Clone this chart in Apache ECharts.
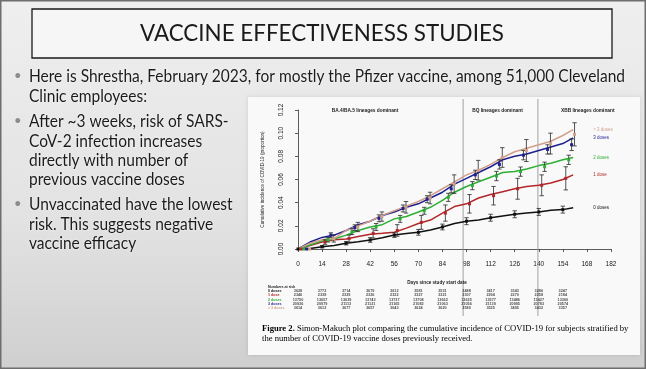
<!DOCTYPE html>
<html><head><meta charset="utf-8">
<script src="https://cdn.jsdelivr.net/npm/echarts@6/dist/echarts.min.js"></script>
<style>html,body{margin:0;padding:0;background:#e6e6e6}#c{width:646px;height:369px}</style>
</head><body><div id="c"></div>
<script>
// ---------- data ----------
const slideTitle = 'VACCINE EFFECTIVENESS STUDIES';
const bulletLines = [
  ['Here is Shrestha, February 2023, for mostly the Pfizer vaccine, among 51,000 Cleveland', 'Clinic employees:'],
  ['After ~3 weeks, risk of SARS-', 'CoV-2 infection increases', 'directly with number of', 'previous vaccine doses'],
  ['Unvaccinated have the lowest', 'risk. This suggests negative', 'vaccine efficacy']
];
const groupNames = ['0 doses', '1 dose', '2 doses', '3 doses', '> 3 doses'];
const days = [0,7,14,21,28,35,42,49,56,63,70,77,84,91,98,105,112,119,126,133,140,147,154,160];
const dose0 = [0,0.0005,0.002,0.003,0.005,0.0063,0.0078,0.0098,0.012,0.0133,0.0144,0.0164,0.019,0.022,0.024,0.025,0.027,0.0285,0.030,0.031,0.032,0.0334,0.034,0.0357];
const dose1 = [0,0.003,0.006,0.008,0.0086,0.0107,0.0127,0.0135,0.0144,0.018,0.022,0.025,0.031,0.0366,0.039,0.044,0.047,0.0495,0.052,0.054,0.055,0.057,0.060,0.064];
const dose2 = [0,0.0035,0.007,0.0086,0.012,0.016,0.019,0.021,0.026,0.028,0.032,0.036,0.042,0.049,0.054,0.058,0.062,0.066,0.067,0.069,0.072,0.074,0.077,0.079];
const dose3 = [0,0.006,0.010,0.012,0.016,0.021,0.024,0.029,0.032,0.036,0.039,0.044,0.049,0.056,0.061,0.066,0.071,0.077,0.080,0.082,0.085,0.088,0.091,0.096];
const dose4 = [0,0.005,0.008,0.009,0.016,0.020,0.024,0.029,0.033,0.037,0.041,0.046,0.052,0.058,0.064,0.068,0.073,0.079,0.084,0.087,0.090,0.093,0.098,0.103];
// point estimates with error bars, every 14 days (each group slightly offset in days)
const barDays = [0,14,28,42,56,70,84,98,112,126,140,154];
const barOffsets = [0, 1.7, 3.4, 5.1, 6.8];
const est0 = [0,0.002,0.005,0.0078,0.012,0.0144,0.019,0.024,0.027,0.030,0.032,0.034];
const err0 = [0,0.001,0.0015,0.002,0.002,0.0025,0.0025,0.003,0.003,0.003,0.003,0.003];
const est1 = [0,0.006,0.009,0.0135,0.016,0.023,0.031,0.039,0.046,0.052,0.055,0.061];
const err1 = [0,0.002,0.003,0.004,0.005,0.006,0.007,0.008,0.008,0.009,0.009,0.010];
const est2 = [0,0.008,0.015,0.019,0.026,0.033,0.0446,0.0547,0.063,0.0668,0.071,0.077];
const err2 = [0,0.002,0.0025,0.003,0.003,0.003,0.0035,0.0035,0.004,0.004,0.004,0.004];
const est3 = [0,0.012,0.0184,0.0265,0.035,0.043,0.052,0.064,0.073,0.081,0.086,0.090];
const err3 = [0,0.002,0.0025,0.003,0.003,0.003,0.0035,0.004,0.004,0.004,0.004,0.005];
const est4 = [0,0.009,0.019,0.028,0.036,0.044,0.056,0.068,0.079,0.085,0.091,0.099];
const err4 = [0,0.003,0.004,0.004,0.005,0.005,0.008,0.0085,0.0085,0.0095,0.009,0.010];
const periodLines = [96, 139.5];
const periodLabels = ['BA.4/BA.5 lineages dominant', 'BQ lineages dominant', 'XBB lineages dominant'];
const periodLabelDays = [39, 116, 168.5];
const riskHeader = 'Numbers at risk';
const riskDays = [0,14,28,42,56,70,84,98,112,126,140,154];
const risk0 = [3628,3772,3714,3679,3612,3581,3531,3488,3417,3343,3286,3247];
const risk1 = [2346,2338,2329,2326,2322,2327,2321,2307,2294,2270,2258,2184];
const risk2 = [13750,13657,13639,13743,13737,13708,13662,13625,13577,13486,13427,13360];
const risk3 = [20936,20979,21113,21121,21165,21082,21063,21056,21139,20995,20783,20574];
const risk4 = [3614,3612,3677,3657,3643,3624,3620,3580,3525,3495,3432,3357];
const xTitle = 'Days since study start date';
const yTitle = 'Cumulative incidence of COVID-19 (proportion)';
const captionBold = 'Figure 2.';
const captionRest1 = ' Simon-Makuch plot comparing the cumulative incidence of COVID-19 for subjects stratified by';
const captionLine2 = 'the number of COVID-19 vaccine doses previously received.';

// ---------- styles ----------
const colors = ['#111111', '#b3262a', '#2eae35', '#1f1f8f', '#d0a08c'];
const curves = [dose0, dose1, dose2, dose3, dose4];
const ests = [est0, est1, est2, est3, est4];
const errs = [err0, err1, err2, err3, err4];
const risks = [risk0, risk1, risk2, risk3, risk4];
const slideFont = 'Lato, "Open Sans", sans-serif';
const plotFont = '"Liberation Sans", Arial, sans-serif';

const chart = echarts.init(document.getElementById('c'), null, {renderer: 'canvas'});

const series = [];
curves.forEach((arr, g) => {
  series.push({
    type: 'line', name: groupNames[g], xAxisIndex: 0, yAxisIndex: 0,
    data: days.map((d, i) => [d, arr[i]]),
    showSymbol: false, symbol: 'none', silent: true,
    lineStyle: {color: colors[g], width: 1.5},
    endLabel: {show: true, formatter: groupNames[g], color: colors[g], fontSize: 4.5, fontFamily: plotFont, distance: 20},
    z: 2 + g * 0.1
  });
});
ests.forEach((arr, g) => {
  series.push({
    type: 'custom', xAxisIndex: 0, yAxisIndex: 0, silent: true,
    data: barDays.map((d, i) => [d + barOffsets[g], arr[i], arr[i] - errs[g][i], arr[i] + errs[g][i]]),
    renderItem: function (params, api) {
      const c = api.coord([api.value(0), api.value(1)]);
      const lo = api.coord([api.value(0), api.value(2)]);
      const hi = api.coord([api.value(0), api.value(3)]);
      const w = 2.2;
      const ls = {stroke: '#2a2a2a', lineWidth: 0.8};
      const ch = [];
      if (hi[1] < lo[1] - 0.5) {
        ch.push({type: 'line', shape: {x1: lo[0], y1: lo[1], x2: hi[0], y2: hi[1]}, style: ls});
        ch.push({type: 'line', shape: {x1: lo[0] - w, y1: lo[1], x2: lo[0] + w, y2: lo[1]}, style: ls});
        ch.push({type: 'line', shape: {x1: hi[0] - w, y1: hi[1], x2: hi[0] + w, y2: hi[1]}, style: ls});
      }
      ch.push({type: 'rect', shape: {x: c[0] - 1.5, y: c[1] - 1.5, width: 3, height: 3}, style: {fill: g === 0 ? '#111' : colors[g]}});
      return {type: 'group', children: ch};
    },
    z: 5
  });
});
// risk table
risks.forEach((arr, g) => {
  series.push({
    type: 'scatter', xAxisIndex: 1, yAxisIndex: 1, silent: true,
    symbolSize: 0,
    data: riskDays.map((d, i) => [d, groupNames[g], arr[i]]),
    label: {show: true, position: 'inside', formatter: p => String(p.value[2]), fontSize: 3.8, fontFamily: plotFont, fontWeight: 'bold', color: '#222'},
    labelLayout: {hideOverlap: false}
  });
});

const textShadow = {textShadowColor: 'rgba(255,255,255,0.9)', textShadowBlur: 2};
const graphics = [
  {type: 'rect', z: -10, shape: {x: 0, y: 0, width: 646, height: 369},
   style: {fill: new echarts.graphic.LinearGradient(0, 0, 0, 1, [{offset: 0, color: '#efefef'}, {offset: 0.6, color: '#e2e2e2'}, {offset: 1, color: '#cfcfcf'}]), stroke: '#6e6e6e', lineWidth: 3}},
  {type: 'rect', z: -9, shape: {x: 248, y: 97, width: 392, height: 258},
   style: {fill: '#f9f9f9', shadowColor: 'rgba(0,0,0,0.12)', shadowBlur: 4}},
  {type: 'rect', z: -9, shape: {x: 32, y: 9, width: 580, height: 49},
   style: {fill: '#f6f6f6', stroke: '#1a1a1a', lineWidth: 1.3}},
  {type: 'text', z: 10, x: 322, y: 34, style: {text: slideTitle, font: '22.4px ' + slideFont, fill: '#1a1a1a', textAlign: 'center', textVerticalAlign: 'middle'}},
];
const lineYs = [[77, 97], [122, 142, 161, 180], [205, 225, 244]];
bulletLines.forEach((blk, b) => {
  graphics.push({type: 'text', z: 10, x: 14, y: lineYs[b][0] - 1, style: {text: '•', font: '13px ' + slideFont, fill: '#8c8c8c', textVerticalAlign: 'middle'}});
  blk.forEach((t, k) => {
    graphics.push({type: 'text', z: 10, x: 29, y: lineYs[b][k], scaleX: 0.94, style: Object.assign({text: t, font: '16.5px ' + slideFont, fill: '#1b1b1b', textVerticalAlign: 'middle'}, textShadow)});
  });
});
// plot texts
graphics.push({type: 'text', z: 10, x: 437, y: 283, style: {text: xTitle, font: 'bold 4.6px ' + plotFont, fill: '#222', textAlign: 'center', textVerticalAlign: 'middle'}});
graphics.push({type: 'text', z: 10, x: 268, y: 286.5, style: {text: riskHeader, font: 'bold 3.6px ' + plotFont, fill: '#222', textVerticalAlign: 'middle'}});
graphics.push({type: 'text', z: 10, x: 262, y: 329, style: {rich: {b: {font: 'bold 8.6px "Liberation Serif", serif', fill: '#000'}, r: {font: '8.6px "Liberation Serif", serif', fill: '#000'}}, text: '{b|' + captionBold + '}{r|' + captionRest1 + '}', textVerticalAlign: 'middle'}});
graphics.push({type: 'text', z: 10, x: 262, y: 339, style: {text: captionLine2, font: '8.6px "Liberation Serif", serif', fill: '#000', textVerticalAlign: 'middle'}});

const option = {
  animation: false,
  grid: [
    {left: 298, right: 35, top: 110, bottom: 120},
    {left: 298, right: 35, top: 288.5, height: 22}
  ],
  xAxis: [
    {type: 'value', gridIndex: 0, min: 0, max: 182, interval: 14, offset: 7,
     axisLine: {show: true, lineStyle: {color: '#333', width: 0.8}},
     axisTick: {show: true, length: 3, lineStyle: {color: '#333', width: 0.8}},
     axisLabel: {fontSize: 6.5, fontFamily: plotFont, color: '#1a1a1a', margin: 5},
     splitLine: {show: false}},
    {type: 'value', gridIndex: 1, min: 0, max: 182, show: false}
  ],
  yAxis: [
    {type: 'value', gridIndex: 0, min: 0, max: 0.12, interval: 0.02, offset: 11,
     axisLine: {show: true, lineStyle: {color: '#333', width: 0.8}},
     axisTick: {show: true, length: 3, lineStyle: {color: '#333', width: 0.8}},
     axisLabel: {fontSize: 6.5, fontFamily: plotFont, color: '#1a1a1a', rotate: 90, margin: 2, formatter: v => v.toFixed(2)},
     name: yTitle, nameLocation: 'middle', nameGap: 22, nameRotate: 90,
     nameTextStyle: {fontSize: 4.6, fontFamily: plotFont, color: '#222'},
     splitLine: {show: false}},
    {type: 'category', gridIndex: 1, inverse: true, data: groupNames,
     axisLine: {show: false}, axisTick: {show: false},
     axisLabel: {show: true, interval: 0, hideOverlap: false, align: 'left', margin: 30, fontSize: 3.6, fontWeight: 'bold', fontFamily: plotFont, color: (v, i) => colors[groupNames.indexOf(v)]}}
  ],
  series: series,
  graphic: graphics
};
chart.setOption(option);

// period separators and labels, positioned through the x scale
const extra = [];
periodLines.forEach(d => {
  const px = chart.convertToPixel({gridIndex: 0}, [d, 0])[0];
  extra.push({type: 'line', z: 1, shape: {x1: px, y1: 99, x2: px, y2: 316}, style: {stroke: '#8a8a8a', lineWidth: 0.8}});
});
periodLabels.forEach((t, i) => {
  const px = chart.convertToPixel({gridIndex: 0}, [periodLabelDays[i], 0])[0];
  extra.push({type: 'text', z: 10, x: px, y: 111, style: {text: t, font: 'bold 4.8px ' + plotFont, fill: '#222', textAlign: 'center', textVerticalAlign: 'middle'}});
});
chart.setOption({graphic: graphics.concat(extra)}, {replaceMerge: ['graphic']});
</script>
</body></html>
